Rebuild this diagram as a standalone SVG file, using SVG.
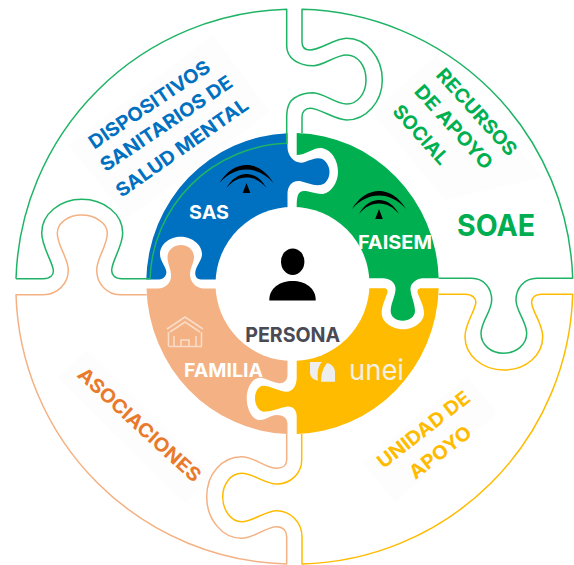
<svg xmlns="http://www.w3.org/2000/svg" width="574" height="565" viewBox="0 0 574 565">
<style>
text{font-family:Inter,"Liberation Sans",Arial,sans-serif;font-weight:700;text-anchor:middle}
.o{fill:none;stroke-width:1.500;stroke-linejoin:round}
.g{stroke:#1fb465}.p{stroke:#f4b183}.y{stroke:#ffbb00}
.panel{fill:#fdfdfd}
.w{fill:#fff;font-size:19px}
.k{fill:#000}
.l{font-size:19px}
</style>
<defs>
<g id="junta">
<path class="k" d="M-27,1C-20,-11 -10,-17 0,-17C10,-17 20,-11 27,1C19,-8 10,-12.500 0,-12.500C-10,-12.500 -19,-8 -27,1Z"/>
<path class="k" d="M-20,6C-15,-3 -8,-8 0,-8C8,-8 15,-3 20,6C14,-1 8,-4.500 0,-4.500C-8,-4.500 -14,-1 -20,6Z"/>
<path class="k" d="M-3.800,11L0,1L3.800,11Z"/>
</g>
</defs>
<rect width="574" height="565" fill="#fff"/>
<path class="panel" d="M68,145L213,35L270,112L128,218Z"/>
<path class="panel" d="M372,112L437,55L543,177L445,200Z"/>
<path class="panel" d="M58,378L87,350L213,477L185,503Z"/>
<path class="panel" d="M363,463L467,377L497,413L395,502Z"/>
<g id="nucleo">
<path id="pieza-sas" fill="#0070c0" d="M146.300,279.500A146,150 0 0 1 287.500,133.300V147C287.500,157 296,165 305,162C313,159 320,156 325,161C331,167 331,177 325,183C318,188 308,183 300,181C292,180 287.500,186 287.500,194V279.500H201C196,279.500 194,275 196,269C199,262 202,259 202,254C202,244 191,236.700 180.700,236.700C170,236.700 160,244 160,254C160,260 164,264 166,270C167.500,275 164,279.500 159,279.500Z"/>
<path id="pieza-faisem" fill="#00b050" d="M296.700,133A146,150 0 0 1 438.700,278.300H423C417,278.300 411,283 410.500,288C410,294 415,303 415,311C415,317 409,320.700 402.700,320.700C396,320.700 390.700,317 390.700,311C390.700,303 396,295 395.500,288C395,282 389,278.300 383,278.300H296.700V207C296.700,195 298,190 306,191C312,192 318,194 323,194C332,192 338,182 338,171.700C338,161 332,150 322,148C314,147 306,155 296.700,155Z"/>
<path id="pieza-unei" fill="#ffbb00" d="M438.700,288.300A146,150 0 0 1 296.700,434V416.700C296.700,410 293,406 286.700,406.700C279,408 271,411.700 263.300,411.700C258,411 255,404 255,398.300C255,392 258,386 263.300,385.700C271,385.700 279,391.700 286.700,391.700C293,391.700 296.700,385 296.700,378V288.300H383.300C387,288.300 388,290 387.300,293C385,300 381.700,306 381.700,313.300C381.700,322 392,329.300 403.300,329.300C414,329.300 424,322 424,313.300C424,306 420,300 417.700,293C417,290 418,288.300 421.700,288.300Z"/>
<path id="pieza-familia" fill="#f4b183" d="M146.500,288.500H158C166,288.500 172,282 171,274C170,267 167.500,263 167.500,257C167.500,250 174,245 181,245C188,245 194,250 194,257C194,263 190,268 190,274C190,282 196,288.500 204,288.500H287.500V375C287.500,381 283,384 278,383C271,382 266,377.700 260,377.700C252,378 246.700,388 246.700,398C246.700,409 252,420 260,420C266,420 271,415 276.700,415C283,415 287.500,418 287.500,424V434A146,150 0 0 1 146.500,288.500Z"/>
<circle cx="292.500" cy="284" r="77" fill="#fff"/>
</g>
<g id="conectores">
<path class="o g" d="M16,278.700H43.300C50,278.700 54,275 53.300,270C52,261 41.700,246 41.700,233C41.700,214 60,199.300 81.700,199.300C104,199.300 122.700,214 122.700,233C122.700,246 112,261 111.700,270C111.500,275 115,278.700 121.700,278.700H150A142.500,140 0 0 1 286.700,143.300V117C286.700,106 291,99 296.700,96.700C303,93 308,92.700 313.300,92.700C324,93 335,104 346.700,104C358,104 366,93 366,80C366,66 358,55 346.700,55C335,55 324,65.700 313.300,65.700C298,65.700 286.700,58 286.700,46V9.300A278,278 0 0 0 16,278.700"/>
<path class="o g" d="M302,133V116.700C302,112 305,108.300 310,108.300C320,108.300 335,120 346.700,120C366,120 382.300,102 382.300,80C382.300,57 366,38.300 346.700,38.300C335,38.300 320,50 310,50C305,50 302,47 302,42V9.300A278,278 0 0 1 572.700,278.300H537C524,278.300 516,288 516,300C516,311 526.700,322 526.700,333.300C526.700,345 516,353.300 503.300,353.300C491,353.300 481,345 481,333.300C481,322 491.700,311 491.700,300C491.700,288 484,278.300 471.700,278.300H438.700"/>
<path class="o y" d="M438.700,294.300H465C472,294.300 476.500,298 475.700,303.300C474,313 465,324 465,336.700C465,355 482,370 504,370C526,370 542.700,355 542.700,336.700C542.700,324 533,313 531.700,303.300C531,298 535,294.300 541.700,294.300H572.700A278,278 0 0 1 302,564V536.700C302,522 290,510.700 276.700,510.700C265,510.700 253,521.700 241.700,521.700C231,521.700 222.700,510 222.700,496.700C222.700,484 231,473.300 241.700,473.300C253,473.300 265,484 276.700,484C291,484 301.700,473 301.700,460V434"/>
<path class="o p" d="M146.700,294.700H120C107,294.700 96.700,284 96.700,270C96.700,258 107.300,246 107.300,233.300C107.300,223 95,215 81.700,215C68,215 57.300,223 57.300,233.300C57.300,246 68.300,258 68.300,270C68.300,284 57,294.700 43.300,294.700H16A278,278 0 0 0 286.700,564V536.700C286.700,531 283,526.700 276.700,526.700C266,526.700 254,538.300 241.700,538.300C222,538.300 206.700,519 206.700,496.700C206.700,474 222,456.700 241.700,456.700C254,456.700 266,468.300 276.700,468.300C283,468.300 286.700,465 286.700,460V434"/>
</g>
<g id="sas"><use href="#junta" x="246.500" y="182"/><text class="w" x="209" y="219" textLength="40" lengthAdjust="spacingAndGlyphs">SAS</text></g>
<g id="faisem"><use href="#junta" x="379" y="208"/><text class="w" x="395" y="249" textLength="74" lengthAdjust="spacingAndGlyphs">FAISEM</text></g>
<g id="familia">
<g fill="none" stroke="#f9dcc8" stroke-width="1.600"><path d="M167,329L185,317L203,329M170,332L185,322L200,332M168.500,346.500H202M168.500,346V332M201.500,346V332M174,346V336M196,346V336M181,346V340H189V346"/></g>
<text class="w" x="223.500" y="377" textLength="79" lengthAdjust="spacingAndGlyphs">FAMILIA</text></g>
<g id="unei">
<path fill="#eeeeee" d="M310,362H322C318,366 317,372 318,381L316,380C312,379 310,376 310,372ZM321,381.700C321,374 323,368 327,363C332,364 335,368 335,372V381.700Z"/>
<text x="376.500" y="380" style="font-size:28px;font-weight:400;fill:#f4f0e4" textLength="55" lengthAdjust="spacingAndGlyphs">unei</text></g>
<g id="persona">
<ellipse cx="292.700" cy="261.700" rx="11.700" ry="13.300"/>
<path d="M269.300,300.500C269,288 280,281 292.700,281C305,281 316,288 315.700,300.500Z"/>
<text x="292.700" y="342" fill="#4a4a55" style="font-size:20px" textLength="95" lengthAdjust="spacingAndGlyphs">PERSONA</text></g>
<g id="dispositivos" fill="#0070c0" class="l">
<text transform="translate(153,110) rotate(-34)" textLength="142" lengthAdjust="spacingAndGlyphs">DISPOSITIVOS</text>
<text transform="translate(170,129) rotate(-34)" textLength="155" lengthAdjust="spacingAndGlyphs">SANITARIOS DE</text>
<text transform="translate(185.700,153) rotate(-35)" textLength="157" lengthAdjust="spacingAndGlyphs">SALUD MENTAL</text></g>
<g id="recursos" fill="#00b050" class="l">
<text transform="translate(471.800,116.400) rotate(48)" textLength="110" lengthAdjust="spacingAndGlyphs">RECURSOS</text>
<text transform="translate(448.800,131.400) rotate(48)" textLength="106" lengthAdjust="spacingAndGlyphs">DE APOYO</text>
<text transform="translate(416,139) rotate(48)" textLength="73" lengthAdjust="spacingAndGlyphs">SOCIAL</text></g>
<text id="soae" x="496" y="236" fill="#00ad50" style="font-size:30px" textLength="78" lengthAdjust="spacingAndGlyphs">SOAE</text>
<text id="asociaciones" class="l" transform="translate(135,429.600) rotate(42.400)" fill="#e97a2c" textLength="159" lengthAdjust="spacingAndGlyphs">ASOCIACIONES</text>
<g id="unidad" fill="#ffbb00" class="l">
<text transform="translate(427.600,434.800) rotate(-38)" textLength="112" lengthAdjust="spacingAndGlyphs">UNIDAD DE</text>
<text transform="translate(444.300,457.500) rotate(-38)" textLength="73" lengthAdjust="spacingAndGlyphs">APOYO</text></g>
</svg>
